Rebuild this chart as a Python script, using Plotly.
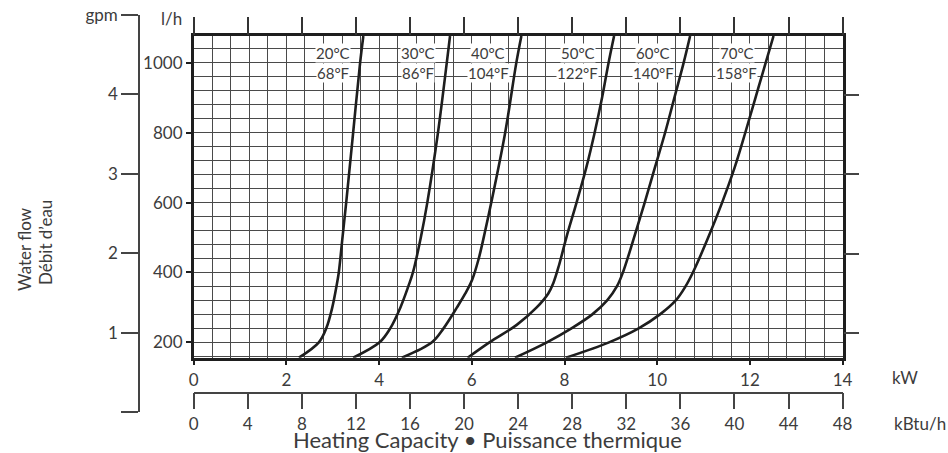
import plotly.graph_objects as go

W, H = 948, 453

# ---------------- data ----------------
temps_c = ["20°C", "30°C", "40°C", "50°C", "60°C", "70°C"]
temps_f = ["68°F", "86°F", "104°F", "122°F", "140°F", "158°F"]
label_kw = [3.01, 4.84, 6.36, 8.29, 9.92, 11.72]

c20_lh = [156, 200, 240, 300, 360, 400, 500, 600, 800, 1000, 1077]
c20_kw = [2.27, 2.70, 2.86, 2.99, 3.08, 3.13, 3.21, 3.29, 3.44, 3.59, 3.66]
c30_lh = [156, 200, 240, 300, 360, 400, 500, 600, 800, 1000, 1077]
c30_kw = [3.44, 4.01, 4.24, 4.46, 4.63, 4.73, 4.90, 5.04, 5.27, 5.46, 5.53]
c40_lh = [156, 200, 240, 300, 340, 380, 440, 520, 600, 800, 1000, 1077]
c40_kw = [4.49, 5.14, 5.39, 5.68, 5.86, 6.01, 6.15, 6.29, 6.42, 6.72, 6.96, 7.07]
c50_lh = [156, 200, 250, 300, 340, 370, 420, 500, 600, 700, 800, 900, 1000, 1077]
c50_kw = [5.91, 6.38, 6.97, 7.40, 7.65, 7.76, 7.88, 8.04, 8.26, 8.47, 8.65, 8.81, 8.95, 9.07]
c60_lh = [156, 200, 240, 280, 320, 360, 400, 500, 600, 700, 800, 900, 1000, 1077]
c60_kw = [6.93, 7.62, 8.15, 8.60, 8.92, 9.13, 9.26, 9.50, 9.73, 9.95, 10.17, 10.37, 10.57, 10.71]
c70_lh = [156, 200, 240, 280, 320, 360, 400, 500, 600, 700, 800, 900, 1000, 1077]
c70_kw = [8.03, 8.96, 9.60, 10.06, 10.40, 10.61, 10.77, 11.10, 11.40, 11.67, 11.90, 12.12, 12.34, 12.51]

kw_range = [0, 14]
lh_range = [156, 1077]
kbtu_range = [0, 48]
gpm_range = [0, 5]
gpm_ticks = [0, 1, 2, 3, 4, 5]
gpm_text = ["", "1", "2", "3", "4", "gpm"]
LH_PER_GPM = 227.0

curves_kw = [c20_kw, c30_kw, c40_kw, c50_kw, c60_kw, c70_kw]
curves_lh = [c20_lh, c30_lh, c40_lh, c50_lh, c60_lh, c70_lh]

# ---------------- layout geometry (pixels -> paper) ----------------
def px(x):
    return x / W

def py(y):
    return (H - y) / H

FONT = "Lato, 'Open Sans', sans-serif"
TXT = "#3c3c3c"
DARK = "#1e1e1e"
GRID = "#4a4a4a"

x_dom = [px(193.7), px(842.6)]
y_dom = [py(357.7), py(36)]

fig = go.Figure()

for kw, lh in zip(curves_kw, curves_lh):
    fig.add_trace(go.Scatter(x=kw, y=lh, mode="lines",
                             line=dict(color=DARK, width=2.6, shape="spline", smoothing=1.0),
                             showlegend=False, hoverinfo="skip"))

# invisible helper traces so helper axes are drawn
fig.add_trace(go.Scatter(x=kbtu_range, y=[0.5, 0.5], xaxis="x2", yaxis="y3", mode="markers",
                         marker=dict(opacity=0), showlegend=False, hoverinfo="skip"))
fig.add_trace(go.Scatter(x=[0.5, 0.5], y=gpm_range, xaxis="x3", yaxis="y2", mode="markers",
                         marker=dict(opacity=0), showlegend=False, hoverinfo="skip"))
fig.add_trace(go.Scatter(x=kbtu_range, y=[500, 500], xaxis="x4", yaxis="y", mode="markers",
                         marker=dict(opacity=0), showlegend=False, hoverinfo="skip"))
fig.add_trace(go.Scatter(x=[5, 5], y=[1, 4], xaxis="x", yaxis="y4", mode="markers",
                         marker=dict(opacity=0), showlegend=False, hoverinfo="skip"))

tickfont = dict(family=FONT, size=17, color=TXT)

fig.update_layout(
    width=W, height=H, autosize=False,
    margin=dict(l=0, r=0, t=0, b=0, pad=0, autoexpand=False),
    paper_bgcolor="white", plot_bgcolor="white",
    font=dict(family=FONT, color=TXT),
    xaxis=dict(domain=x_dom, range=kw_range, anchor="y", tick0=0, dtick=2, automargin=False,
               ticks="outside", ticklen=5, tickwidth=1.5, tickcolor=DARK,
               showline=True, linewidth=2.5, linecolor=DARK, mirror=True,
               showgrid=True, gridcolor=GRID, gridwidth=1, zeroline=False,
               minor=dict(dtick=0.4, showgrid=True, gridcolor=GRID, gridwidth=1, ticks=""),
               tickfont=tickfont, fixedrange=True),
    yaxis=dict(domain=y_dom, range=lh_range, anchor="x", tick0=0, dtick=200, automargin=False,
               ticks="outside", ticklen=5, tickwidth=1.5, tickcolor=DARK,
               showline=True, linewidth=2.5, linecolor=DARK, mirror=True,
               showgrid=True, gridcolor=GRID, gridwidth=1, zeroline=False,
               minor=dict(tick0=0, dtick=40, showgrid=True, gridcolor=GRID, gridwidth=1, ticks=""),
               tickfont=tickfont, fixedrange=True),
    # kBtu/h axis below
    xaxis2=dict(domain=x_dom, range=kbtu_range, anchor="y3", side="bottom", tick0=0, dtick=4,
                automargin=False,
                ticks="outside", ticklen=16, tickwidth=1.5, tickcolor="#444",
                showline=True, linewidth=1.5, linecolor="#444", showgrid=False, zeroline=False,
                tickfont=tickfont, fixedrange=True),
    yaxis3=dict(domain=[py(391.7), py(389.7)], range=[0, 1], anchor="x2", visible=False,
                automargin=False),
    # gpm axis on the left
    xaxis3=dict(domain=[px(140), px(142)], range=[0, 1], anchor="y2", visible=False,
                automargin=False),
    yaxis2=dict(domain=[py(412.2), py(14.8)], range=gpm_range, anchor="x3", side="left",
                tickvals=gpm_ticks, ticktext=gpm_text, automargin=False,
                ticks="outside", ticklen=17, tickwidth=1.5, tickcolor="#444",
                showline=True, linewidth=1.5, linecolor="#444", showgrid=False, zeroline=False,
                tickfont=tickfont, fixedrange=True),
    # top ticks (kBtu/h)
    xaxis4=dict(overlaying="x", anchor="y", side="top", range=kbtu_range, tick0=0, dtick=4,
                automargin=False,
                ticks="outside", ticklen=18, tickwidth=1.5, tickcolor="#333",
                showticklabels=False, showgrid=False, showline=False, zeroline=False, fixedrange=True),
    # right ticks (gpm)
    yaxis4=dict(overlaying="y", anchor="x", side="right", automargin=False,
                range=[lh_range[0] / LH_PER_GPM, lh_range[1] / LH_PER_GPM],
                tickvals=[1, 2, 3, 4], ticks="outside", ticklen=15, tickwidth=1.5, tickcolor="#444",
                showticklabels=False, showgrid=False, showline=False, zeroline=False, fixedrange=True),
)

ann = []
for kw, tc, tf in zip(label_kw, temps_c, temps_f):
    ann.append(dict(x=kw, y=1027, xref="x", yref="y", text=tc, showarrow=False,
                    xanchor="center", yanchor="middle",
                    bgcolor="white", borderpad=0, font=dict(family=FONT, size=15, color=TXT)))
    ann.append(dict(x=kw, y=970, xref="x", yref="y", text=tf, showarrow=False,
                    xanchor="center", yanchor="middle",
                    bgcolor="white", borderpad=0, font=dict(family=FONT, size=15, color=TXT)))

def paper_text(x, y, text, size=17, angle=0):
    return dict(x=px(x), y=py(y), xref="paper", yref="paper", text=text, showarrow=False,
                xanchor="center", yanchor="middle", textangle=angle,
                font=dict(family=FONT, size=size, color=TXT))

ann += [
    paper_text(171, 19, "l/h"),
    paper_text(905, 377, "kW"),
    paper_text(920, 423, "kBtu/h"),
    paper_text(487, 439, "Heating Capacity • Puissance thermique", size=22),
    paper_text(25, 249, "Water flow", angle=-90),
    paper_text(45, 243, "Débit d’eau", angle=-90),
]
fig.update_layout(annotations=ann)

fig.write_html("out.html")
